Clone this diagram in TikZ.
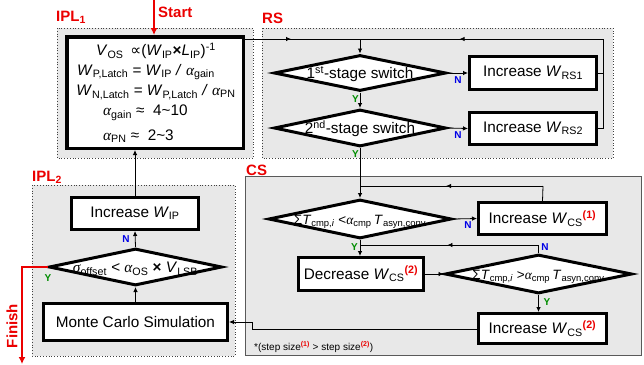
\documentclass[tikz,border=0pt]{standalone}
\usepackage{fontspec}
\setmainfont{Liberation Sans}
\newfontfamily\grk{Liberation Serif}
\newfontfamily\dvs{DejaVu Sans}
\usetikzlibrary{shapes.geometric,arrows.meta,decorations.markings}
\definecolor{regfill}{RGB}{232,232,232}
\definecolor{myred}{RGB}{235,0,0}
\definecolor{myblue}{RGB}{0,0,230}
\definecolor{mygreen}{RGB}{0,140,0}
\newcommand\al{{\grk\itshape α}}
\newcommand\sg{{\grk\itshape σ}}
\newcommand\Wi{\textit{W}}
\newcommand\rsup[1]{\textsuperscript{\textcolor{myred}{\textbf{#1}}}}
\newcommand\dtext[1]{\makebox[0pt]{\raisebox{-0.36em}[0pt][0pt]{#1}}}
\tikzset{
  x=1pt, y=-1pt,
  region/.style={fill=regfill, draw=black!75, dotted, line width=0.8pt},
  csregion/.style={fill=regfill, draw=black!65, line width=1pt},
  box/.style={draw=black, fill=white, line width=3pt, inner sep=0pt, font=\fontsize{15.3}{18}\selectfont},
  dia/.style={diamond, draw=black, fill=white, line width=3pt, inner sep=0pt, font=\fontsize{15.3}{18}\selectfont},
  conn/.style={draw=black, line width=0.8pt},
  arr/.style={conn, -{Latex[length=5pt,width=4.5pt]}},
  midarrow/.style={postaction={decorate}, decoration={markings, mark=at position #1 with {\arrow{Latex[length=5pt,width=4.5pt]}}}},
  redarr/.style={draw=myred, line width=2pt, -{Latex[length=7pt,width=7pt]}},
  grplabel/.style={text=myred, font=\fontsize{15}{18}\selectfont\bfseries, inner sep=0pt},
  nlab/.style={text=myblue, font=\fontsize{10}{12}\selectfont\bfseries, inner sep=0pt},
  ylab/.style={text=mygreen, font=\fontsize{10}{12}\selectfont\bfseries, inner sep=0pt},
  txt/.style={inner sep=0pt, font=\fontsize{15.3}{18}\selectfont}
}
\begin{document}
\begin{tikzpicture}
\useasboundingbox (0,0) rectangle (644,364);
% regions
\draw[region] (57,28) rectangle (253,158);
\draw[region] (262,28) rectangle (613,158);
\draw[csregion] (245,176) rectangle (641,355);
\draw[region] (32,185) rectangle (235,356);
% region labels
\node[grplabel, anchor=south west] (lipl1) at (56,24) {IPL\textsubscript{1}};
\node[grplabel, anchor=south west] (lrs) at (262,24) {RS};
\node[grplabel, anchor=south west] (lcs) at (246,176) {CS};
\node[grplabel, anchor=south west] (lipl2) at (32,184) {IPL\textsubscript{2}};
% IPL1 box
\node[box, line width=3.5pt, minimum width=176.5pt, minimum height=111.5pt] (ipbox) at (155,92.5) {};
\node[txt] (t1) at (156,51) {\textit{V}\textsubscript{OS} \,{\dvs ∝}(\Wi\textsubscript{IP}\textbf{×}\textit{L}\textsubscript{IP})\textsuperscript{-1}};
\node[txt] (t2) at (146,72) {\Wi\textsubscript{P,Latch} = \Wi\textsubscript{IP} \textit{/} \al\textsubscript{gain}};
\node[txt] (t3) at (156,92) {\Wi\textsubscript{N,Latch} = \Wi\textsubscript{P,Latch} \textit{/} \al\textsubscript{PN}};
\node[txt, anchor=west] (t4) at (103,113) {\al\textsubscript{gain} ≈ \ 4\textasciitilde10};
\node[txt, anchor=west] (t5) at (103,136) {\al\textsubscript{PN} ≈ \ 2\textasciitilde3};
% RS
\node[dia, minimum width=172pt, minimum height=36pt] (d1) at (360,73) {\dtext{1\textsuperscript{st}-stage switch}};
\node[dia, minimum width=172pt, minimum height=37pt] (d2) at (360,128) {\dtext{2\textsuperscript{nd}-stage switch}};
\node[box, minimum width=127pt, minimum height=33pt] (rs1) at (533,73) {Increase \Wi\textsubscript{RS1}};
\node[box, minimum width=127pt, minimum height=32pt] (rs2) at (533,128.5) {Increase \Wi\textsubscript{RS2}};
% CS
\node[dia, minimum width=183pt, minimum height=39pt] (d3) at (360,219) {\dtext{\fontsize{13.5}{16}\selectfont Σ\textit{T}\textsubscript{cmp,\textit{i}} <\al\textsubscript{cmp}\,\textit{T}\textsubscript{asyn,conv}}};
\node[box, minimum width=128pt, minimum height=32pt] (cs1) at (542.5,218.5) {Increase \Wi\textsubscript{CS}\rsup{(1)}};
\node[box, minimum width=125pt, minimum height=33pt] (dec) at (361,274) {Decrease \Wi\textsubscript{CS}\rsup{(2)}};
\node[dia, minimum width=187pt, minimum height=39pt] (d4) at (538.5,274) {\dtext{\fontsize{13.5}{16}\selectfont Σ\textit{T}\textsubscript{cmp,\textit{i}} >\al\textsubscript{cmp}\,\textit{T}\textsubscript{asyn,conv}}};
\node[box, minimum width=128pt, minimum height=30pt] (cs2) at (542.5,328.5) {Increase \Wi\textsubscript{CS}\rsup{(2)}};
\node[txt, anchor=west, font=\fontsize{10}{12}\selectfont] (foot) at (254,347) {*(step size\rsup{(1)} > step size\rsup{(2)})};
% IPL2
\node[box, minimum width=127pt, minimum height=32pt] (incip) at (135,213.5) {Increase \Wi\textsubscript{IP}};
\node[dia, minimum width=173pt, minimum height=37pt] (d5) at (135.5,267) {\dtext{\sg\textsubscript{offset} < \al\textsubscript{OS} \textbf{×} \textit{V}\textsubscript{LSB}}};
\node[box, minimum width=184pt, minimum height=37pt] (mc) at (135.5,322) {Monte Carlo Simulation};
% Start / Finish
\node[grplabel, anchor=west] (start) at (158,12.5) {Start};
\coordinate (st) at (154,0);
\draw[redarr] (st) -- (st |- ipbox.north);
\node[grplabel, rotate=90] (finish) at (12,326) {Finish};
\coordinate (fin) at (22,364);
\draw[redarr] (d5.west) -| (fin);
% coordinates for RS loop
\coordinate (tl) at (603,39);
\coordinate (jn) at (360,39);
\draw[conn, midarrow=0.4] (ipbox.east |- jn) -- (jn);
\draw[conn, midarrow=0.59] (tl) -- (jn);
\draw[arr] (jn) -- (d1.north);
\draw[conn] (rs2.east) -| (tl);
\draw[conn] (rs1.east) -- (rs1.east -| tl);
\draw[arr] (d1.east) -- (rs1.west);
\draw[arr] (d2.east) -- (rs2.west);
\draw[arr] (d1.south) -- (d2.north);
\draw[arr] (d2.south) -- (d3.north);
\node[nlab] (n1) at (458,80) {N};
\node[nlab] (n2) at (458,135) {N};
\node[ylab, anchor=east] (y1) at (359,99) {Y};
\node[ylab, anchor=east] (y2) at (359,154) {Y};
% CS loop
\coordinate (j2) at (360,186);
\coordinate (c1) at (543,186);
\draw[conn] (cs1.north) -- (c1);
\draw[conn, midarrow=0.53] (c1) -- (j2);
\draw[arr] (d3.east) -- (cs1.west);
\node[nlab] (n3) at (468,225) {N};
\draw[arr] (d3.south) -- (dec.north -| d3.south);
\node[ylab, anchor=east] (y3) at (358,247) {Y};
\coordinate (j3) at (360,245);
\coordinate (c2) at (538.5,245);
\draw[conn] (d4.north) -- (c2);
\draw[conn, midarrow=0.51] (c2) -- (j3);
\node[nlab] (n4) at (545,247) {N};
\draw[arr] (dec.east) -- (d4.west);
\draw[arr] (d4.south) -- (d4.south |- cs2.north);
\node[ylab] (y4) at (547,302) {Y};
\coordinate (k1) at (252,329);
\draw[arr] (cs2.west |- k1) -- (k1) |- (mc.east);
% IPL2 flow
\draw[arr] (mc.north) -- (d5.south);
\draw[arr] (d5.north) -- (incip.south);
\node[nlab] (n5) at (126,239) {N};
\node[ylab] (y5) at (48,278) {Y};
\draw[arr] (incip.north) -- (incip.north |- ipbox.south);
\end{tikzpicture}
\end{document}
